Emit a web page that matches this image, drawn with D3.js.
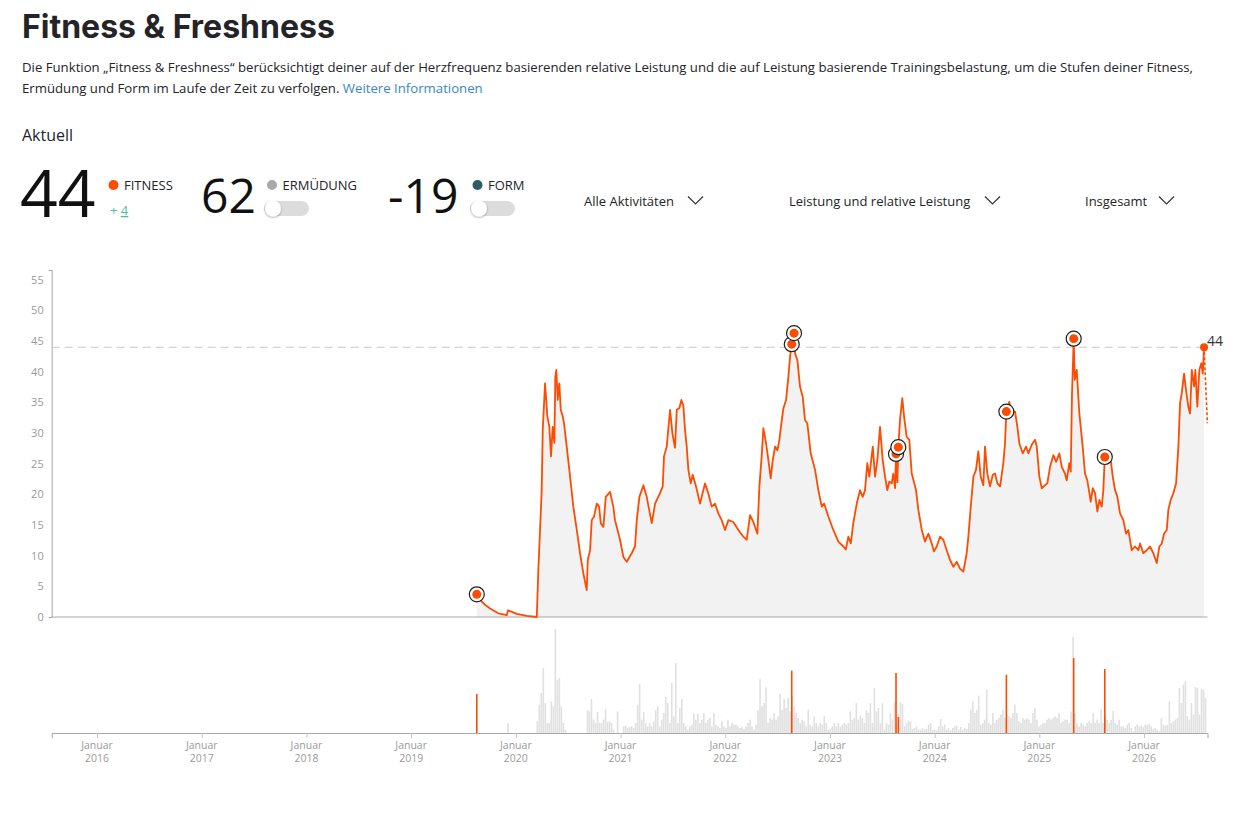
<!DOCTYPE html>
<html lang="de">
<head>
<meta charset="utf-8">
<title>Fitness &amp; Freshness</title>
<script src="https://cdn.jsdelivr.net/npm/d3@7"></script>
<style>
  body { margin: 0; background: #fff; }
  svg { display: block; font-family: "Open Sans", sans-serif; }
</style>
</head>
<body>
<svg id="chart" width="1250" height="830"></svg>
<script>
// fitness per date (decimal year, value)
const fitness = [
  [2019.627, 3.7], [2019.658, 2.8], [2019.706, 2.0], [2019.754, 1.4], [2019.833, 0.6],
  [2019.913, 0.3], [2019.926, 1.1], [2020.009, 0.5], [2020.104, 0.2], [2020.200, 0],
  [2020.215, 7.7], [2020.247, 20.7], [2020.257, 30.5], [2020.279, 38.1], [2020.301, 32.7],
  [2020.320, 31], [2020.336, 26.2], [2020.352, 31], [2020.368, 28.4], [2020.377, 39.2],
  [2020.387, 40.3], [2020.400, 35.4], [2020.415, 38.1], [2020.429, 33.8], [2020.448, 32.7],
  [2020.460, 31.6], [2020.486, 27.8], [2020.518, 22.9], [2020.549, 18], [2020.582, 14.2],
  [2020.613, 10.4], [2020.645, 7.1], [2020.677, 4.4], [2020.687, 9.3], [2020.709, 10.9],
  [2020.725, 15.8], [2020.747, 16.4], [2020.773, 18.5], [2020.795, 18], [2020.811, 15.3],
  [2020.836, 14.7], [2020.859, 19.6], [2020.900, 20.4], [2020.931, 18], [2020.947, 15.8],
  [2020.995, 12.6], [2021.027, 9.8], [2021.059, 9], [2021.107, 10.4], [2021.138, 11.5],
  [2021.155, 15.8], [2021.180, 19.6], [2021.218, 21.5], [2021.250, 19.6], [2021.298, 15.3],
  [2021.330, 18.5], [2021.377, 20.2], [2021.403, 21.3], [2021.415, 26.2], [2021.441, 27.8],
  [2021.473, 33.8], [2021.495, 30], [2021.520, 27.6], [2021.537, 33.8], [2021.562, 34.1],
  [2021.581, 35.4], [2021.600, 34.5], [2021.616, 30.5], [2021.632, 27.8], [2021.648, 24],
  [2021.670, 21.8], [2021.689, 23.2], [2021.721, 21.3], [2021.759, 18.5], [2021.807, 21.8],
  [2021.838, 20.2], [2021.871, 18], [2021.902, 18.5], [2021.934, 16.9], [2021.966, 15.8],
  [2021.998, 14.2], [2022.030, 15.8], [2022.077, 15.5], [2022.125, 14.2], [2022.173, 13.1],
  [2022.205, 12.6], [2022.237, 16.6], [2022.268, 15.5], [2022.307, 13.6], [2022.326, 21.3],
  [2022.348, 26.2], [2022.364, 30.8], [2022.390, 28.3], [2022.412, 25.6], [2022.434, 22.6],
  [2022.454, 25.6], [2022.476, 27.8], [2022.498, 27.2], [2022.517, 28.9], [2022.540, 32.1],
  [2022.555, 34], [2022.581, 35.4], [2022.603, 39.2], [2022.619, 42.5], [2022.635, 44.5],
  [2022.657, 46.3], [2022.667, 43], [2022.689, 41.9], [2022.714, 37.6], [2022.740, 35.9],
  [2022.762, 32.1], [2022.784, 31.6], [2022.816, 26.7], [2022.858, 24], [2022.889, 20.7],
  [2022.922, 18], [2022.944, 18.5], [2022.985, 16.4], [2023.032, 14.2], [2023.080, 12.3],
  [2023.128, 11.5], [2023.151, 11], [2023.176, 13.1], [2023.199, 12], [2023.223, 15.3],
  [2023.256, 18.5], [2023.287, 20.7], [2023.313, 19.6], [2023.335, 20.7], [2023.357, 25.1],
  [2023.376, 22.9], [2023.409, 27.8], [2023.431, 22.9], [2023.453, 25.6], [2023.478, 31],
  [2023.504, 25.6], [2023.526, 22.9], [2023.548, 20.7], [2023.567, 22.1], [2023.590, 21.8],
  [2023.605, 23.4], [2023.622, 21.0], [2023.631, 26.6], [2023.644, 22.0], [2023.653, 27.7],
  [2023.669, 32.1], [2023.691, 35.7], [2023.708, 32.7], [2023.733, 29.4], [2023.758, 28.9],
  [2023.781, 23.4], [2023.822, 20.7], [2023.844, 17.5], [2023.877, 14.2], [2023.908, 12.3],
  [2023.940, 13.6], [2023.972, 12], [2023.994, 10.7], [2024.020, 11.5], [2024.051, 13.1],
  [2024.083, 12.6], [2024.115, 10.9], [2024.147, 9.3], [2024.179, 8.2], [2024.211, 9],
  [2024.242, 7.9], [2024.274, 7.4], [2024.306, 10.4], [2024.322, 13.1], [2024.345, 18],
  [2024.370, 22.9], [2024.395, 24], [2024.417, 27], [2024.440, 22.9], [2024.465, 21.5],
  [2024.481, 27.8], [2024.503, 23.4], [2024.529, 21.3], [2024.555, 23.2], [2024.577, 23.4],
  [2024.599, 21.8], [2024.625, 21.3], [2024.656, 25.1], [2024.672, 28.3], [2024.685, 33.5],
  [2024.713, 35.1], [2024.736, 33.2], [2024.768, 33.5], [2024.790, 31], [2024.809, 28.3],
  [2024.841, 26.7], [2024.873, 27.8], [2024.895, 26.7], [2024.927, 28.1], [2024.959, 28.9],
  [2024.975, 27.8], [2025.000, 22.9], [2025.023, 21], [2025.054, 21.5], [2025.076, 21.8],
  [2025.102, 24.5], [2025.134, 26.4], [2025.160, 25.3], [2025.191, 26.7], [2025.214, 24.5],
  [2025.245, 23.4], [2025.261, 22.3], [2025.286, 25.1], [2025.300, 23.7], [2025.312, 36.5],
  [2025.319, 40.3], [2025.328, 45.4], [2025.338, 38.7], [2025.357, 40.3], [2025.382, 33.2],
  [2025.414, 27.8], [2025.436, 23.4], [2025.458, 22.3], [2025.478, 20.2], [2025.491, 18.8],
  [2025.510, 21], [2025.532, 20.2], [2025.554, 17.2], [2025.573, 19.1], [2025.596, 18],
  [2025.611, 20.7], [2025.625, 26.1], [2025.659, 25.1], [2025.682, 25.6], [2025.701, 22.9],
  [2025.723, 20.7], [2025.745, 19.6], [2025.771, 16.9], [2025.802, 15.8], [2025.828, 13.6],
  [2025.850, 14.2], [2025.882, 10.9], [2025.914, 11.5], [2025.946, 10.9], [2025.962, 12],
  [2025.993, 10.4], [2026.026, 10.9], [2026.057, 11.5], [2026.089, 10.4], [2026.121, 8.8],
  [2026.146, 11.5], [2026.169, 12], [2026.191, 13.6], [2026.217, 14.2], [2026.232, 17.5],
  [2026.255, 19.1], [2026.280, 20.2], [2026.306, 21.8], [2026.328, 27.8], [2026.344, 34.9],
  [2026.360, 36.5], [2026.382, 39.7], [2026.401, 37], [2026.423, 34.3], [2026.439, 33.2],
  [2026.456, 40.3], [2026.478, 37.6], [2026.490, 40.3], [2026.509, 34.3], [2026.528, 40.3],
  [2026.547, 41.4], [2026.561, 39.7], [2026.573, 44]
];

// dashed forecast after today
const projection = [[2026.573, 44], [2026.605, 31.6]];

// highlighted activities: decimal year, fitness, training load
const events = [
  [2019.627, 3.7, 117], [2022.635, 44.5, 187], [2022.657, 46.3, 0],
  [2023.631, 26.6, 180], [2023.653, 27.7, 48], [2024.685, 33.5, 175],
  [2025.328, 45.4, 225], [2025.625, 26.1, 192]
];

// weekly training load starting at loadStart
const loadStart = 2020.205;
const loadStep = 7 / 365.25;
const loads = [
  35, 85, 120, 195, 90, 30, 30, 95, 80, 312, 160, 165, 80, 30, 10,
  0, 0, 0, 0, 0, 0, 0, 0, 0, 0,
  68, 65, 102, 40, 30, 63, 30, 30, 40, 72, 34, 35, 30, 10, 0, 65, 0, 0,
  20, 22, 15, 18, 20, 15, 30, 85, 147, 40, 63, 30, 20, 30, 20, 35, 68, 80,
  20, 40, 60, 108, 90, 30, 150, 50, 210, 30, 75, 102, 30, 20, 10, 20, 25, 58, 40, 58,
  30, 40, 60, 30, 40, 45, 20, 60, 25, 20, 15, 35, 20, 15, 40, 20, 30, 25, 25, 20,
  15, 20, 12, 20, 30, 40, 20, 10, 25, 68, 162, 80, 90, 137, 30, 45, 40, 60, 40, 50,
  118, 70, 102, 75, 105, 65, 110, 80, 60, 45, 30, 40, 35, 20, 70, 25, 20, 50, 30, 20,
  30, 25, 50, 30, 10, 12, 20, 30, 20, 30, 18, 25, 30, 25, 30, 65, 40, 45, 90, 40, 52, 45, 30, 68, 60, 90,
  30, 135, 65, 75, 30, 90, 10, 30, 25, 60, 40, 92, 30, 58, 92, 87, 20, 30, 37, 35,
  12, 15, 20, 10, 10, 15, 10, 12, 25, 30, 10, 10, 8, 20, 42, 20, 25, 10, 15, 8,
  15, 20, 22, 10, 18, 10, 15, 12, 30, 70, 95, 60, 70, 112, 25, 30, 40, 130, 30, 25,
  60, 30, 40, 45, 55, 70, 45, 55, 50, 45, 60, 85, 60, 35, 30, 45, 40, 45, 40, 30,
  60, 75, 40, 20, 25, 30, 30, 40, 45, 40, 45, 50, 45, 60, 30, 35, 40, 40, 30, 65,
  288, 60, 30, 20, 30, 25, 20, 30, 35, 30, 60, 30, 40, 30, 72, 30, 55, 40, 30, 40,
  67, 30, 25, 40, 20, 20, 15, 25, 30, 15, 5, 20, 25, 20, 22, 18, 25, 25, 28, 20,
  12, 15, 10, 5, 45, 25, 22, 25, 95, 30, 35, 40, 45, 135, 90, 145, 155, 50, 40, 90,
  55, 138, 135, 55, 132, 130, 105
];
const earlyLoads = [[2019.926, 30]];

const yearTicks = d3.range(2016, 2027);
const fitnessTicks = d3.range(0, 56, 5);

const currentFitness = 44;
const fitnessChange = 4;
const currentFatigue = 62;
const currentForm = -19;

const orange = '#fc4c02';
const svg = d3.select('#chart');

// ---------- header ----------
svg.append('text')
  .attr('x', 22).attr('y', 38)
  .attr('font-family', 'Inter, sans-serif')
  .attr('font-weight', 700)
  .attr('font-size', 32)
  .attr('fill', '#242428')
  .text('Fitness & Freshness');

const desc = svg.append('g')
  .attr('font-size', 13.2)
  .attr('fill', '#242428');
desc.append('text').attr('x', 22).attr('y', 72)
  .text('Die Funktion „Fitness & Freshness“ berücksichtigt deiner auf der Herzfrequenz basierenden relative Leistung und die auf Leistung basierende Trainingsbelastung, um die Stufen deiner Fitness,');
const line2 = desc.append('text').attr('x', 22).attr('y', 93);
line2.append('tspan').text('Ermüdung und Form im Laufe der Zeit zu verfolgen. ');
line2.append('tspan').attr('fill', '#3a86c4').text('Weitere Informationen');

svg.append('text')
  .attr('x', 22).attr('y', 141)
  .attr('font-size', 16)
  .attr('fill', '#242428')
  .text('Aktuell');

const stats = svg.append('g').attr('fill', '#111');
stats.append('text').attr('x', 20).attr('y', 217)
  .attr('font-size', 66).text(currentFitness);
stats.append('text').attr('x', 201).attr('y', 213)
  .attr('font-size', 48).text(currentFatigue);
stats.append('text').attr('x', 388).attr('y', 213)
  .attr('font-size', 48).text(currentForm);

const legendItems = [
  { x: 113.5, color: orange, label: 'FITNESS' },
  { x: 272, color: '#aaa9a9', label: 'ERMÜDUNG' },
  { x: 477.5, color: '#2d5d62', label: 'FORM' },
];
legendItems.forEach((d) => {
  svg.append('circle').attr('cx', d.x).attr('cy', 185).attr('r', 5).attr('fill', d.color);
  svg.append('text').attr('x', d.x + 10.5).attr('y', 190)
    .attr('font-size', 13).attr('fill', '#242428').text(d.label);
});

const delta = svg.append('text').attr('x', 110).attr('y', 215)
  .attr('font-size', 13).attr('fill', '#4fbf9a');
delta.append('tspan').text('+ ');
delta.append('tspan').attr('text-decoration', 'underline').text(fitnessChange);

const defs = svg.append('defs');
const shadow = defs.append('filter').attr('id', 'knob-shadow')
  .attr('x', '-50%').attr('y', '-50%').attr('width', '200%').attr('height', '200%');
shadow.append('feDropShadow').attr('dx', 0).attr('dy', 1)
  .attr('stdDeviation', 1.2).attr('flood-color', '#000').attr('flood-opacity', 0.35);

[264, 470].forEach((tx) => {
  svg.append('rect').attr('x', tx).attr('y', 201).attr('width', 45).attr('height', 15)
    .attr('rx', 7.5).attr('fill', '#dcdcdc');
  svg.append('circle').attr('cx', tx + 9).attr('cy', 208.5).attr('r', 8)
    .attr('fill', '#fff').attr('filter', 'url(#knob-shadow)');
});

const dropdowns = [
  { x: 584, chevron: 688, label: 'Alle Aktivitäten' },
  { x: 789, chevron: 985, label: 'Leistung und relative Leistung' },
  { x: 1085, chevron: 1159, label: 'Insgesamt' },
];
dropdowns.forEach((d) => {
  svg.append('text').attr('x', d.x).attr('y', 206)
    .attr('font-size', 13).attr('fill', '#242428').text(d.label);
  svg.append('path')
    .attr('d', `M${d.chevron},196.5L${d.chevron + 7.5},204L${d.chevron + 15},196.5`)
    .attr('fill', 'none').attr('stroke', '#333').attr('stroke-width', 1.2);
});

// ---------- chart ----------
const x = d3.scaleLinear().domain([2015.567, 2026.606]).range([51.7, 1207.5]);
const y = d3.scaleLinear().domain([0, 56.6]).range([617, 270]);
const yLoad = d3.scaleLinear().domain([0, 330]).range([733, 623]);

const area = d3.area()
  .x((d) => x(d[0]))
  .y0(y(0))
  .y1((d) => y(d[1]));

const line = d3.line()
  .x((d) => x(d[0]))
  .y((d) => y(d[1]));

svg.append('path')
  .datum(fitness)
  .attr('d', area)
  .attr('fill', '#f2f2f2');

// y axis
const yAxisG = svg.append('g')
  .attr('transform', `translate(${x.range()[0]},0)`)
  .call(d3.axisLeft(y).tickValues(fitnessTicks).tickSizeInner(0).tickSizeOuter(3).tickPadding(8));
yAxisG.select('.domain').attr('stroke', '#a8a8a8');
yAxisG.selectAll('text').attr('fill', '#9a9a9a').attr('font-size', 11)
  .attr('font-family', '"Open Sans", sans-serif');

// baseline of fitness chart
svg.append('line')
  .attr('x1', x.range()[0]).attr('x2', x.range()[1])
  .attr('y1', y(0)).attr('y2', y(0))
  .attr('stroke', '#a8a8a8');

// current fitness reference
svg.append('line')
  .attr('x1', x.range()[0]).attr('x2', x.range()[1])
  .attr('y1', y(currentFitness)).attr('y2', y(currentFitness))
  .attr('stroke', '#c8c8c8').attr('stroke-dasharray', '8,5');

svg.append('path')
  .datum(fitness)
  .attr('d', line)
  .attr('fill', 'none')
  .attr('stroke', orange)
  .attr('stroke-width', 1.8)
  .attr('stroke-linejoin', 'round');

svg.append('path')
  .datum(projection)
  .attr('d', line)
  .attr('fill', 'none')
  .attr('stroke', orange)
  .attr('stroke-width', 1.6)
  .attr('stroke-dasharray', '3,2');

const markers = svg.append('g')
  .selectAll('g')
  .data(events)
  .join('g')
  .attr('transform', (d) => `translate(${x(d[0])},${y(d[1])})`);
markers.append('circle').attr('r', 7.5)
  .attr('fill', '#fff').attr('stroke', '#1e1e1e').attr('stroke-width', 1.2);
markers.append('circle').attr('r', 4.5).attr('fill', orange);

const last = fitness[fitness.length - 1];
svg.append('circle')
  .attr('cx', x(last[0])).attr('cy', y(last[1]))
  .attr('r', 4).attr('fill', orange);
svg.append('text')
  .attr('x', x(last[0]) + 3).attr('y', y(last[1]) - 1)
  .attr('font-size', 14).attr('fill', '#333')
  .text(last[1]);

// ---------- training load bars ----------
const loadData = loads.map((v, i) => [loadStart + i * loadStep, v])
  .concat(earlyLoads)
  .filter((d) => d[1] > 0);

svg.append('g')
  .selectAll('rect')
  .data(loadData)
  .join('rect')
  .attr('x', (d) => x(d[0]) - 0.8)
  .attr('width', 1.6)
  .attr('y', (d) => yLoad(d[1]))
  .attr('height', (d) => yLoad(0) - yLoad(d[1]))
  .attr('fill', '#e0e0e0');

svg.append('g')
  .selectAll('rect')
  .data(events.filter((d) => d[2] > 0))
  .join('rect')
  .attr('x', (d) => x(d[0]) - 0.8)
  .attr('width', 1.6)
  .attr('y', (d) => yLoad(d[2]))
  .attr('height', (d) => yLoad(0) - yLoad(d[2]))
  .attr('fill', orange);

const xAxisG = svg.append('g')
  .attr('transform', `translate(0,${yLoad(0)})`)
  .call(d3.axisBottom(x).tickValues(yearTicks).tickSizeInner(5).tickSizeOuter(5).tickFormat(''));
xAxisG.select('.domain').attr('stroke', '#a8a8a8');
xAxisG.selectAll('.tick line').attr('stroke', '#c4c4c4');
xAxisG.selectAll('.tick text').remove();

// two-line month/year labels under each tick
const labels = svg.append('g')
  .attr('fill', '#9a9a9a')
  .attr('font-size', 10.5)
  .attr('text-anchor', 'middle')
  .selectAll('g')
  .data(yearTicks)
  .join('g')
  .attr('transform', (d) => `translate(${x(d)},${yLoad(0)})`);
labels.append('text').attr('y', 15.5).text('Januar');
labels.append('text').attr('y', 28.5).text((d) => d);
</script>
</body>
</html>
